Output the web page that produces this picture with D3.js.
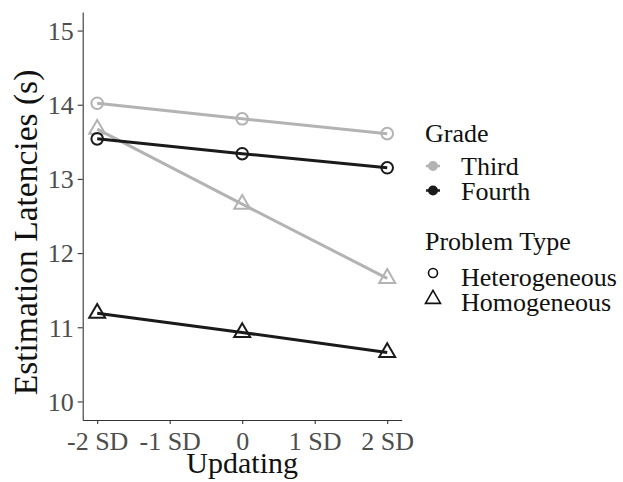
<!DOCTYPE html>
<html>
<head>
<meta charset="utf-8">
<script src="https://cdn.jsdelivr.net/npm/d3@7/dist/d3.min.js"></script>
<style>
  html, body { margin: 0; padding: 0; background: #fff; }
  svg { display: block; font-family: "Liberation Serif", "Times New Roman", serif; }
</style>
</head>
<body>
<svg id="chart" width="623" height="482"></svg>
<script>
// Simple-slope predictions of estimation latency across updating levels
const updatingLevels = [-2, 0, 2];
const xTickValues = [-2, -1, 0, 1, 2];
const xTickLabels = ["-2 SD", "-1 SD", "0", "1 SD", "2 SD"];
const yTickValues = [10, 11, 12, 13, 14, 15];

const grades = ["Third", "Fourth"];
const problemTypes = ["Heterogeneous", "Homogeneous"];

const thirdHeterogeneous = [14.02, 13.81, 13.61];
const fourthHeterogeneous = [13.54, 13.34, 13.15];
const thirdHomogeneous = [13.67, 12.66, 11.66];
const fourthHomogeneous = [11.19, 10.93, 10.66];

const series = [
  { grade: "Third", type: "Heterogeneous", values: thirdHeterogeneous },
  { grade: "Third", type: "Homogeneous", values: thirdHomogeneous },
  { grade: "Fourth", type: "Heterogeneous", values: fourthHeterogeneous },
  { grade: "Fourth", type: "Homogeneous", values: fourthHomogeneous }
];

const gradeColor = d3.scaleOrdinal().domain(grades).range(["#b3b3b3", "#1a1a1a"]);

const svg = d3.select("#chart");
const plotLeft = 82.7, plotRight = 401.7, plotTop = 12, plotBottom = 420;

const x = d3.scaleLinear().domain([-2.2, 2.2]).range([plotLeft, plotRight]);
const y = d3.scaleLinear().domain([9.75, 15.25]).range([plotBottom, plotTop]);

// Axes
const xAxis = svg.append("g")
  .attr("transform", `translate(0,${plotBottom})`)
  .call(d3.axisBottom(x).tickValues(xTickValues)
    .tickFormat((d, i) => xTickLabels[i]).tickSize(4).tickPadding(4).tickSizeOuter(0));
const yAxis = svg.append("g")
  .attr("transform", `translate(${plotLeft},0)`)
  .call(d3.axisLeft(y).tickValues(yTickValues).tickFormat(d3.format("d"))
    .tickSize(5).tickPadding(4).tickSizeOuter(0));

[xAxis, yAxis].forEach(g => {
  g.select(".domain").attr("stroke", "#333").attr("stroke-width", 1.1);
  g.selectAll(".tick line").attr("stroke", "#333").attr("stroke-width", 1.1);
  g.selectAll(".tick text").attr("fill", "#4d4d4d").style("font-size", "26px")
    .style("font-family", "'Liberation Serif', serif");
});
xAxis.selectAll(".tick text").attr("dy", "0.86em");
yAxis.selectAll(".tick text").attr("dy", "0.34em");

// Axis titles
svg.append("text")
  .attr("x", (plotLeft + plotRight) / 2).attr("y", 473)
  .attr("text-anchor", "middle").attr("fill", "#111")
  .style("font-size", "30px").text("Updating");
svg.append("text")
  .attr("transform", `translate(36.5,232.5) rotate(-90)`)
  .attr("text-anchor", "middle").attr("fill", "#111")
  .style("font-size", "33.5px").text("Estimation Latencies (s)");

// Lines and points
const line = d3.line().x((d, i) => x(updatingLevels[i])).y(d => y(d));
const triangle = (cx, cy, s) => {
  const h = s * Math.sqrt(3) / 2;
  return `M${cx},${cy - h * 2 / 3}L${cx + s / 2},${cy + h / 3}L${cx - s / 2},${cy + h / 3}Z`;
};

series.forEach(s => {
  const col = gradeColor(s.grade);
  svg.append("path").datum(s.values)
    .attr("d", line).attr("fill", "none")
    .attr("stroke", col).attr("stroke-width", 3);
  s.values.forEach((v, i) => {
    const cx = x(updatingLevels[i]), cy = y(v);
    if (s.type === "Heterogeneous") {
      svg.append("circle").attr("cx", cx).attr("cy", cy).attr("r", 5.8)
        .attr("fill", "none").attr("stroke", col).attr("stroke-width", 2);
    } else {
      svg.append("path").attr("d", triangle(cx, cy, 16))
        .attr("fill", "none").attr("stroke", col).attr("stroke-width", 2)
        .attr("stroke-linejoin", "miter");
    }
  });
});

// Legend: grade
const lg = svg.append("g");
lg.append("text").attr("x", 425).attr("y", 141.5).attr("fill", "#111")
  .style("font-size", "26px").text("Grade");
grades.forEach((g, i) => {
  const cy = 166 + i * 24.5;
  lg.append("line").attr("x1", 426).attr("x2", 440).attr("y1", cy).attr("y2", cy)
    .attr("stroke", gradeColor(g)).attr("stroke-width", 2.5);
  lg.append("circle").attr("cx", 433).attr("cy", cy).attr("r", 5)
    .attr("fill", gradeColor(g));
  lg.append("text").attr("x", 461).attr("y", cy + 9).attr("fill", "#111")
    .style("font-size", "26px").text(g);
});

// Legend: problem type
lg.append("text").attr("x", 425).attr("y", 249.5).attr("fill", "#111")
  .style("font-size", "26px").text("Problem Type");
problemTypes.forEach((t, i) => {
  const cy = 276 + i * 25;
  if (t === "Heterogeneous") {
    lg.append("circle").attr("cx", 433).attr("cy", cy - 3).attr("r", 4.5)
      .attr("fill", "none").attr("stroke", "#111").attr("stroke-width", 1.6);
  } else {
    lg.append("path").attr("d", triangle(433, cy - 2, 15))
      .attr("fill", "none").attr("stroke", "#111").attr("stroke-width", 1.6);
  }
  lg.append("text").attr("x", 461).attr("y", cy + 10).attr("fill", "#111")
    .style("font-size", "26px").text(t);
});
</script>
</body>
</html>
